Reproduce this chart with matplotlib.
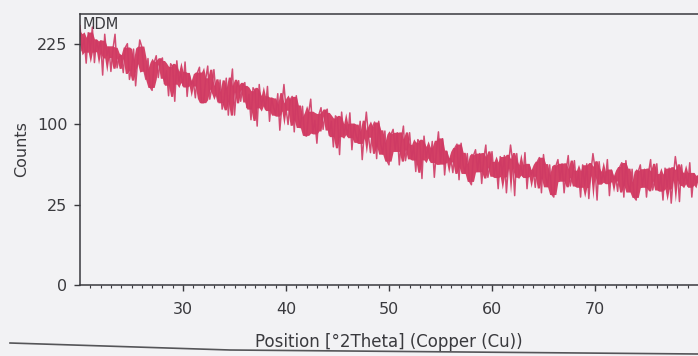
import numpy as np
import pandas as pd
import matplotlib.pyplot as plt
from matplotlib.lines import Line2D

# scan of an XRD pattern, counts every 0.2 deg
two_theta = np.round(np.arange(20.0, 80.01, 0.2), 1)
counts = [
    261, 213, 237, 191, 247,   # 20
    213, 258, 192, 232, 214,   # 21
    231, 171, 244, 204, 219,   # 22
    177, 216, 244, 183, 202,   # 23
    204, 175, 219, 226, 164,   # 24
    181, 216, 154, 195, 233,   # 25
    220, 179, 164, 199, 152,   # 26
    147, 192, 204, 167, 195,   # 27
    200, 157, 178, 139, 190,   # 28
    185, 131, 195, 160, 175,   # 29
    154, 193, 138, 173, 156,   # 30
    161, 136, 175, 184, 129,   # 31
    129, 164, 186, 134, 151,   # 32
    180, 143, 130, 163, 120,   # 33
    133, 166, 112, 149, 181,   # 34
    112, 151, 162, 131, 154,   # 35
    159, 122, 141, 106, 151,   # 36
    146, 98, 156, 125, 137,    # 37
    120, 153, 104, 135, 122,   # 38
    113, 142, 93, 125, 156,    # 39
    121, 100, 133, 138, 91,    # 40
    139, 108, 97, 124, 87,     # 41
    86, 115, 134, 90, 105,     # 42
    78, 113, 122, 94, 115,     # 43
    120, 87, 104, 74, 111,     # 44
    108, 66, 116, 88, 99,      # 45
    86, 115, 71, 100, 87,      # 46
    80, 104, 61, 90, 116,      # 47
    87, 68, 97, 103, 62,       # 48
    104, 77, 67, 92, 60,       # 49
    56, 88, 94, 71, 90,        # 50
    56, 81, 98, 60, 73,        # 51
    90, 62, 75, 50, 82,        # 52
    79, 44, 86, 63, 73,        # 53
    60, 80, 45, 69, 91,        # 54
    58, 83, 47, 69, 60,        # 55
    62, 49, 73, 77, 43,        # 56
    78, 56, 49, 67, 42,        # 57
    39, 65, 71, 51, 67,        # 58
    40, 62, 76, 45, 55,        # 59
    69, 46, 58, 36, 64,        # 60
    47, 65, 33, 56, 76,        # 61
    60, 31, 67, 47, 55,        # 62
    46, 68, 36, 56, 47,        # 63
    51, 37, 59, 63, 33,        # 64
    66, 46, 38, 56, 32,        # 65
    30, 55, 61, 43, 57,        # 66
    33, 51, 65, 38, 46,        # 67
    60, 38, 50, 30, 56,        # 68
    38, 57, 29, 49, 67,        # 69
    53, 28, 59, 41, 49,        # 70
    41, 61, 31, 51, 43,        # 71
    46, 34, 54, 58, 30,        # 72
    60, 40, 34, 52, 30,        # 73
    28, 50, 56, 38, 52,        # 74
    30, 49, 61, 35, 43,        # 75
    57, 35, 47, 28, 53,        # 76
    37, 53, 26, 45, 64,        # 77
    50, 27, 56, 40, 48,        # 78
    38, 58, 30, 48, 40,        # 79
    46,                        # 80
]
y_ticks = [0, 25, 100, 225]
x_ticks = [30, 40, 50, 60, 70]

paper = '#f2f2f4'
ink = '#3a3a3e'

plt.rcParams['font.family'] = ['DejaVu Sans']

fig = plt.figure(figsize=(6.98, 3.56), dpi=100, facecolor=paper)
ax = fig.add_axes([80 / 698, 1 - 285 / 356, 618 / 698, 271 / 356])
ax.set_facecolor(paper)

# dense core of the trace: middle of each 1 deg window of the counts
s = pd.Series(counts)
lo = s.rolling(5, center=True, min_periods=1).quantile(0.22)
hi = s.rolling(5, center=True, min_periods=1).quantile(0.78)
ax.fill_between(two_theta, lo, hi, color='#d2325a', alpha=0.92, lw=0)
ax.plot(two_theta, counts, color='#cf3a64', lw=1.1, alpha=0.9)

ax.set_yscale('function', functions=(lambda y: np.sqrt(np.clip(y, 0, None)), np.square))
ax.set_xlim(20, 80)
ax.set_ylim(0, 285)
ax.set_yticks(y_ticks)
ax.set_yticklabels([str(v) for v in y_ticks])
ax.set_xticks(x_ticks)
ax.set_xticks(np.arange(21, 80, 1), minor=True)
ax.yaxis.set_minor_locator(plt.NullLocator())

ax.tick_params(axis='both', which='major', direction='out', length=4, width=1,
               color=ink, labelcolor=ink, labelsize=11.5)
ax.tick_params(axis='y', which='major', pad=5)
ax.tick_params(axis='x', which='major', pad=8)
ax.tick_params(axis='x', which='minor', direction='out', length=2, width=0.8, color=ink)
for side in ['left', 'bottom', 'top']:
    ax.spines[side].set_color(ink)
    ax.spines[side].set_linewidth(1.1)
ax.spines['right'].set_visible(False)

ax.set_ylabel('Counts', fontsize=11.5, color=ink, labelpad=6)
ax.set_xlabel('Position [°2Theta] (Copper (Cu))', fontsize=12, color=ink, labelpad=12)
ax.text(0.004, 0.99, 'MDM', transform=ax.transAxes, fontsize=10.5, color=ink,
        ha='left', va='top')

# edge of the scanned sheet under the x label
fig.add_artist(Line2D([10 / 698, 230 / 698, 698 / 698], [1 - 343 / 356, 1 - 350 / 356, 1 - 354 / 356],
                      color='#555558', lw=1.2, transform=fig.transFigure))

fig.savefig('out.png', dpi=100, facecolor=paper)
